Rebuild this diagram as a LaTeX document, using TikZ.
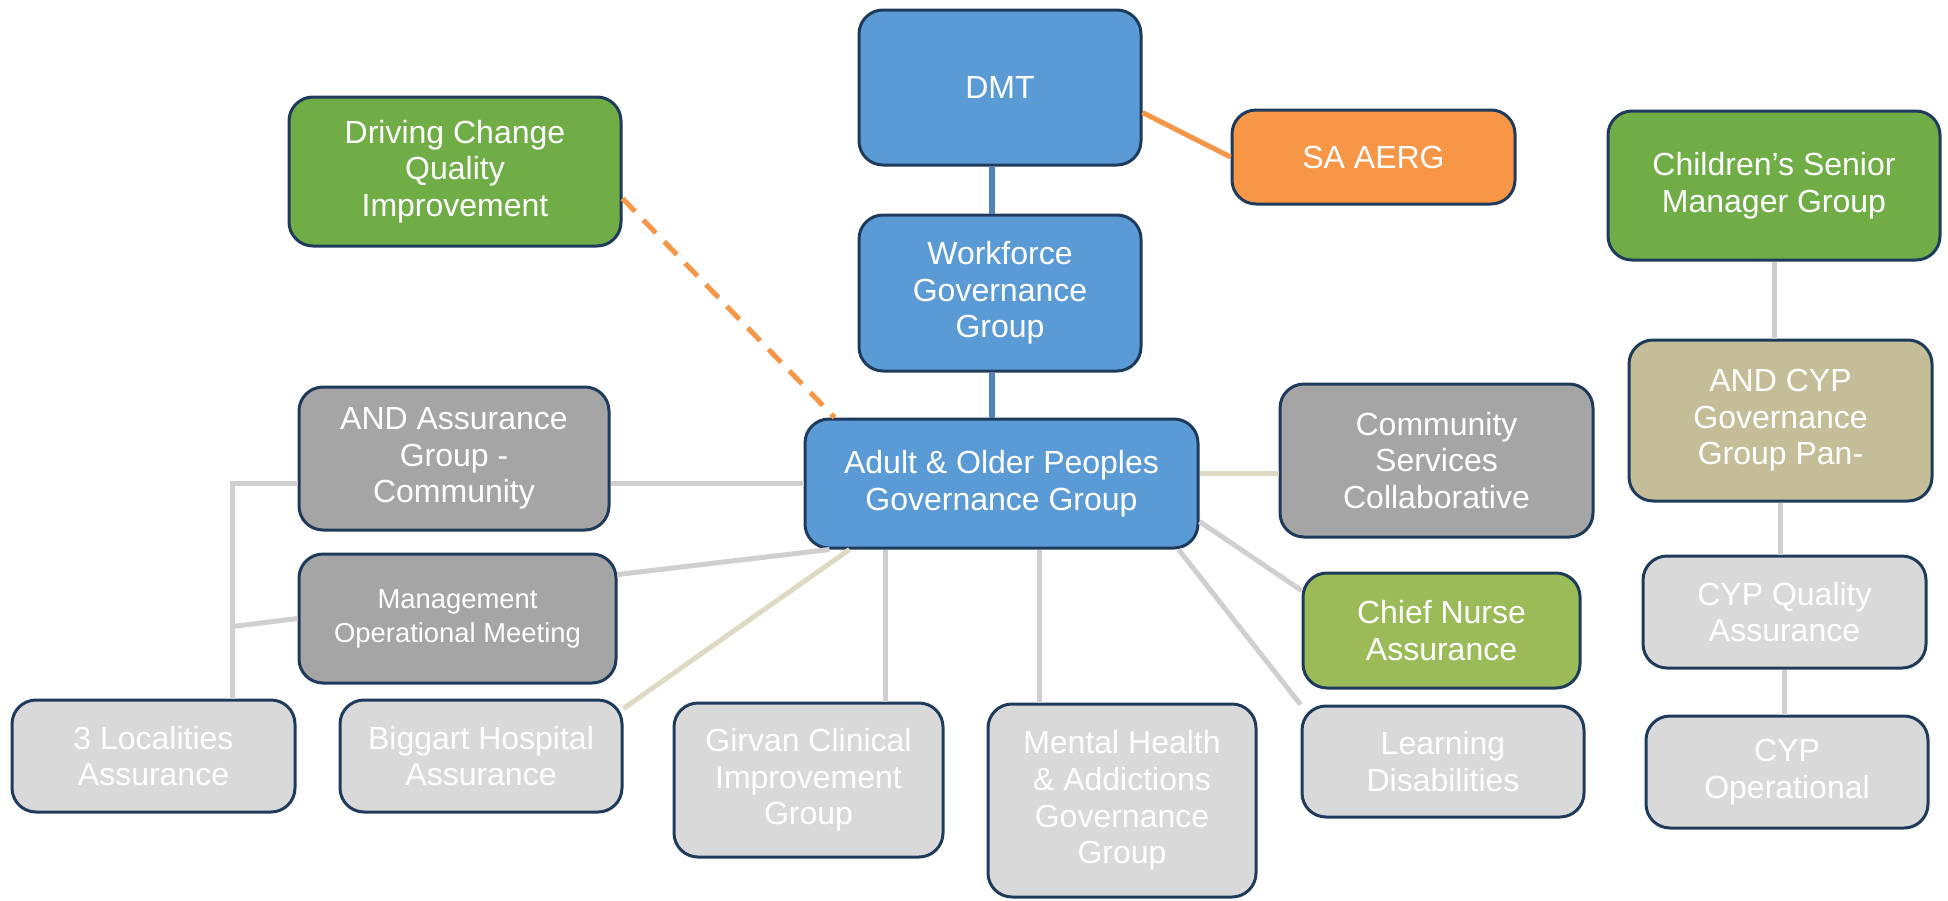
\documentclass[tikz,border=0pt]{standalone}
\usepackage{fontspec}
\setmainfont{Liberation Sans}
\usetikzlibrary{calc}
\definecolor{edge}{HTML}{1F3B5C}
\definecolor{govblue}{HTML}{5B9BD5}
\definecolor{leafgreen}{HTML}{70AD47}
\definecolor{limegreen}{HTML}{9BBB59}
\definecolor{aergorange}{HTML}{F79646}
\definecolor{midgray}{HTML}{A5A5A5}
\definecolor{sand}{HTML}{C4BD97}
\definecolor{pale}{HTML}{D9D9D9}
\definecolor{linkgray}{HTML}{D0CECE}
\definecolor{linkbeige}{HTML}{DDD9C3}
\definecolor{linkblue}{HTML}{4F81BD}

\begin{document}
\begin{tikzpicture}[x=0.5pt,y=-0.5pt,
			box/.style={draw=edge,line width=1.5pt,rounded corners=12pt,text=white,align=center,inner sep=0pt,font=\fontsize{16}{18.3}\selectfont},
			link/.style={draw=linkgray,line width=2.5pt},
			beigelink/.style={draw=linkbeige,line width=2.5pt},
			bluelink/.style={draw=linkblue,line width=2.8pt},
			orangelink/.style={draw=aergorange,line width=2.5pt}]
			\useasboundingbox (0,0) rectangle (1948,900);
			% top of the tree
			\node (dmt) [box,fill=govblue,minimum width=141pt,minimum height=77.5pt] at (1000,87.5) {DMT};
			\node (wfg) [box,fill=govblue,minimum width=141pt,minimum height=78pt] at (1000,293) {Workforce\\Governance\\Group};
			\node (saaerg) [box,fill=aergorange,minimum width=141.5pt,minimum height=47pt] at (1373.5,157) {SA AERG};
			\node (dcqi) [box,fill=leafgreen,minimum width=166pt,minimum height=74.5pt] at (455,171.5) {Driving Change\\Quality\\Improvement};
			\node (csmg) [box,fill=leafgreen,minimum width=166pt,minimum height=74.5pt] at (1774,185.5) {Children’s Senior\\Manager Group};
			% middle row
			\node (aopg) [box,fill=govblue,minimum width=196.5pt,minimum height=64.5pt] at (1001.5,483.5) {Adult \& Older Peoples\\Governance Group};
			\node (andag) [box,fill=midgray,minimum width=155pt,minimum height=71.5pt] at (454,458.5) {AND Assurance\\Group -\\Community};
			\node (mom) [box,fill=midgray,minimum width=158.5pt,minimum height=64.5pt,font=\fontsize{13.7}{17}\selectfont] at (457.5,618.5) {Management\\Operational Meeting};
			\node (csc) [box,fill=midgray,minimum width=156.5pt,minimum height=76.5pt] at (1436.5,460.5) {Community\\Services\\Collaborative};
			\node (cnag) [box,fill=limegreen,minimum width=138.5pt,minimum height=57.5pt] at (1441.5,630.5) {Chief Nurse\\Assurance};
			\node (andcyp) [box,fill=sand,minimum width=151.5pt,minimum height=80.5pt] at (1780.5,420.5) {AND CYP\\Governance\\Group Pan-};
			\node (cypqa) [box,fill=pale,minimum width=141.5pt,minimum height=56pt] at (1784.5,612) {CYP Quality\\Assurance};
			% bottom row
			\node (loc) [box,fill=pale,minimum width=141.5pt,minimum height=56pt] at (153.5,756) {3 Localities\\Assurance};
			\node (biggart) [box,fill=pale,minimum width=141pt,minimum height=56pt] at (481,756) {Biggart Hospital\\Assurance};
			\node (girvan) [box,fill=pale,minimum width=134.5pt,minimum height=77pt] at (808.5,780) {Girvan Clinical\\Improvement\\Group};
			\node (mhag) [box,fill=pale,minimum width=134pt,minimum height=96.5pt] at (1122,800.5) {Mental Health\\\& Addictions\\Governance\\Group};
			\node (ld) [box,fill=pale,minimum width=141pt,minimum height=55.5pt] at (1443,761.5) {Learning\\Disabilities};
			\node (cypop) [box,fill=pale,minimum width=141pt,minimum height=56pt] at (1787,772) {CYP\\Operational};
			% connectors
			\draw[bluelink] ($(dmt.south)+(-8,0)$) coordinate (dw) -- (dw |- wfg.north);
			\draw[bluelink] ($(wfg.south)+(-8,0)$) coordinate (wa) -- (wa |- aopg.north);
			\draw[orangelink] ($(dmt.east)+(0,25)$) -- (saaerg.west);
			\draw[orangelink,dash pattern=on 9pt off 6pt] ($(dcqi.east)+(0,27)$) -- ($(aopg.north west)+(31,0)$);
			\draw[link] (aopg.west) -- (aopg.west -| andag.east);
			\coordinate (spine) at ($(loc.north east)+(-64,0)$);
			\draw[link] (spine) |- (andag.west |- aopg.west);
			\draw[link] ($(spine)+(0,-72)$) -- (mom.west);
			\draw[link] ($(mom.east)+(0,-44)$) -- ($(aopg.south west)+(26,0)$);
			\draw[beigelink] ($(biggart.north east)+(0,10)$) -- ($(aopg.south west)+(46,0)$);
			\draw[link] ($(aopg.south west)+(82,0)$) coordinate (gv) -- (gv |- girvan.north);
			\draw[link] ($(aopg.south west)+(236,0)$) coordinate (mh) -- (mh |- mhag.north);
			\draw[link] ($(aopg.south west)+(375,0)$) -- (ld.north west);
			\draw[link] ($(aopg.east)+(0,38)$) -- ($(cnag.north west)+(0,19)$);
			\draw[beigelink] ($(aopg.east)+(0,-10)$) coordinate (cs) -- (cs -| csc.west);
			\draw[link] (csmg.south) -- (csmg.south |- andcyp.north);
			\draw[link] (andcyp.south) -- (andcyp.south |- cypqa.north);
			\draw[link] (cypqa.south) -- (cypqa.south |- cypop.north);
		\end{tikzpicture}
\end{document}
